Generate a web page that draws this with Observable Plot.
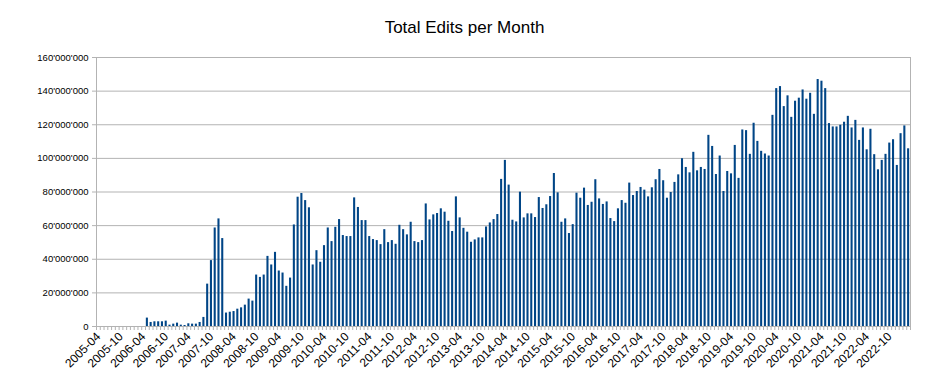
<!DOCTYPE html>
<html>
<head>
<meta charset="utf-8">
<script src="https://cdn.jsdelivr.net/npm/d3@7"></script>
<script src="https://cdn.jsdelivr.net/npm/@observablehq/plot@0.6"></script>
<style>
  body { margin: 0; background: #fff; }
  #title { height: 21px; padding-top: 19px; line-height: 18px; text-align: center;
           font-family: "Liberation Sans", Arial, sans-serif; font-size: 17px; color: #000; width: 929px; }
</style>
</head>
<body>
<div id="title"></div>
<div id="chart"></div>
<script>
const chartTitle = "Total Edits per Month";
const firstMonth = [2005, 4]; // year, month of the first category
// total edits per month, in millions (one value per month, 2005-04 .. 2023-03)
const editsMillions = [
  0, 0, 0, 0, 0, 0, 0, 0, 0, 0, 0, 0,                         // 2005-04 .. 2006-03
  0, 5.0, 2.4, 2.8, 2.8, 2.8, 3.2, 0.8, 1.4, 2.0, 0.8, 0.6,   // 2006-04 .. 2007-03
  1.6, 1.4, 1.4, 2.4, 5.4, 25.2, 39.2, 58.6, 64.0, 52.3, 8.0, 8.5,   // 2007-04 .. 2008-03
  8.9, 10.3, 11.1, 12.7, 16.3, 15.1, 30.6, 29.2, 30.6, 41.7, 36.6, 44.1, // 2008-04 .. 2009-03
  33.0, 31.8, 23.9, 28.8, 60.4, 76.9, 79.1, 74.9, 70.6, 36.6, 45.1, 38.2, // 2009-04 .. 2010-03
  48.1, 58.6, 50.5, 59.0, 63.6, 54.1, 53.5, 53.5, 76.5, 70.8, 63.0, 63.0, // 2010-04 .. 2011-03
  53.5, 51.7, 51.1, 48.7, 57.6, 49.9, 51.1, 48.9, 60.2, 57.6, 54.5, 62.0, // 2011-04 .. 2012-03
  50.5, 49.9, 51.1, 72.9, 63.4, 66.4, 67.2, 70.0, 68.0, 62.6, 56.5, 77.1, // 2012-04 .. 2013-03
  64.6, 58.4, 56.1, 50.1, 51.5, 52.7, 52.7, 59.2, 61.6, 63.6, 66.6, 87.5, // 2013-04 .. 2014-03
  98.8, 84.1, 63.2, 62.2, 79.9, 64.6, 67.0, 67.0, 64.8, 76.7, 70.2, 72.4, // 2014-04 .. 2015-03
  77.3, 91.0, 79.5, 62.0, 64.0, 55.3, 60.6, 79.3, 76.3, 82.3, 72.0, 73.9, // 2015-04 .. 2016-03
  87.3, 75.9, 72.6, 74.1, 64.2, 62.4, 70.0, 74.9, 73.3, 85.3, 77.9, 80.3, // 2016-04 .. 2017-03
  82.7, 81.1, 77.1, 82.5, 87.3, 93.4, 86.7, 76.3, 79.7, 85.7, 90.2, 99.8, // 2017-04 .. 2018-03
  94.6, 91.4, 103.6, 92.6, 94.6, 93.4, 113.7, 107.1, 90.4, 101.4, 80.3, 92.2, // 2018-04 .. 2019-03
  90.8, 107.7, 88.1, 116.9, 116.5, 102.4, 120.9, 110.1, 104.2, 102.6, 101.4, 125.6, // 2019-04 .. 2020-03
  141.5, 142.7, 130.8, 137.2, 124.4, 134.0, 135.8, 140.7, 135.2, 138.7, 126.2, 146.9, // 2020-04 .. 2021-03
  145.9, 141.5, 120.7, 118.7, 118.7, 119.7, 121.5, 125.0, 118.1, 122.6, 110.7, 118.1, // 2021-04 .. 2022-03
  105.1, 117.3, 102.2, 93.2, 98.8, 102.4, 109.1, 111.1, 95.8, 114.7, 119.3, 105.7  // 2022-04 .. 2023-03
];
const yTicksMillions = [0, 20, 40, 60, 80, 100, 120, 140, 160];
const labelEvery = 6; // a month label every 6 months, starting with the first

const fmtMonth = d3.utcFormat("%Y-%m");
const start = new Date(Date.UTC(firstMonth[0], firstMonth[1] - 1, 1));
const months = editsMillions.map((_, i) => fmtMonth(d3.utcMonth.offset(start, i)));
const data = months.map((m, i) => ({month: m, value: editsMillions[i]}));
const monthLabels = months.filter((_, i) => i % labelEvery === 0);

document.getElementById("title").textContent = chartTitle;

const W = 929, H = 347;
const mL = 96, mR = 19, mT = 17, mB = 61;
const step = (W - mL - mR) / months.length;
const grid = "#b3b3b3";
const fmtY = v => d3.format(",")(Math.round(v * 1e6)).replace(/,/g, "'");

const chart = Plot.plot({
  width: W,
  height: H,
  marginLeft: mL, marginRight: mR, marginTop: mT, marginBottom: mB,
  style: {fontFamily: "'Liberation Sans', Arial, sans-serif", fontSize: "12px", color: "#000", background: "#fff"},
  x: {type: "band", domain: months, paddingInner: 0.45, paddingOuter: 0.225, label: null},
  y: {domain: [0, 160], label: null},
  marks: [
    Plot.gridY(yTicksMillions, {stroke: grid, strokeOpacity: 1}),
    Plot.barY(data, {x: "month", y: "value", fill: "#004586"}),
    Plot.frame({stroke: grid}),
    Plot.axisY(yTicksMillions, {tickSize: 4, stroke: grid, tickPadding: 4, tickFormat: fmtY, fill: "#000", fontSize: 9.5}),
    Plot.axisX(months, {tickSize: 4, stroke: grid, dx: -step / 2, tickFormat: () => ""}),
    Plot.axisX([months[months.length - 1]], {tickSize: 4, stroke: grid, dx: step / 2, tickFormat: () => ""}),
    Plot.axisX(monthLabels, {tickSize: 0, tickPadding: 8, tickRotate: -45, tickFormat: d => d, fill: "#000", fontSize: 12})
  ]
});
document.getElementById("chart").appendChild(chart);
</script>
</body>
</html>
